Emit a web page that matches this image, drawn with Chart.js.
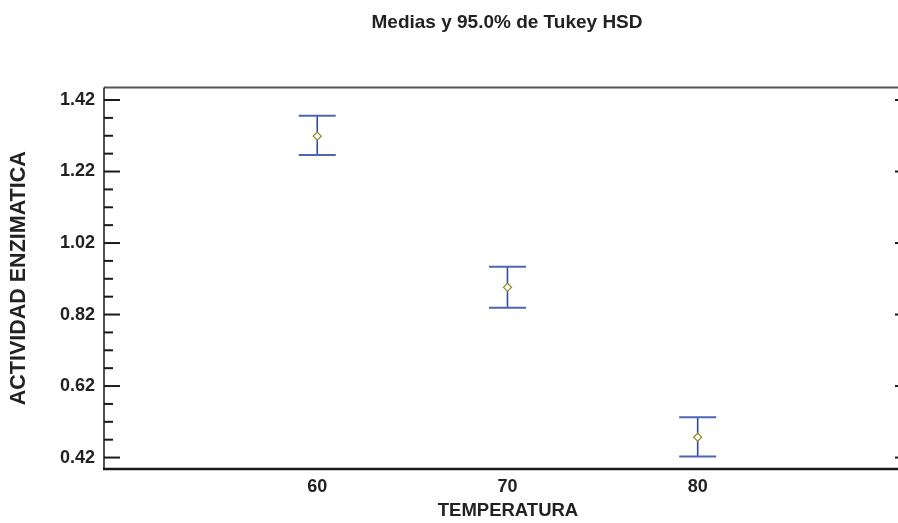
<!DOCTYPE html>
<html>
<head>
<meta charset="utf-8">
<title>Medias y 95.0% de Tukey HSD</title>
<script src="https://cdn.jsdelivr.net/npm/chart.js@4.4.1/dist/chart.umd.min.js"></script>
<style>
  html, body { margin: 0; padding: 0; background: #fff; }
  #wrap { width: 898px; height: 523px; }
</style>
</head>
<body>
<div id="wrap"><canvas id="TukeyChart" width="898" height="523"></canvas></div>
<script>
  'use strict'

  // datos
  var temperaturas = [60, 70, 80];
  var medias = [1.319, 0.896, 0.477];
  var limInf = [1.266, 0.839, 0.423];
  var limSup = [1.376, 0.954, 0.533];
  var yTicks = [0.42, 0.62, 0.82, 1.02, 1.22, 1.42];

  var FONT = "'Liberation Sans', Arial, Helvetica, sans-serif";
  var TXT = '#222222';

  var puntosMedia = temperaturas.map(function (t, i) { return { x: t, y: medias[i] }; });
  var puntosCaps = [];
  var puntosBarra = [];
  temperaturas.forEach(function (t, i) {
    puntosCaps.push({ x: t, y: limInf[i] }, { x: t, y: limSup[i] });
    puntosBarra.push({ x: t, y: limInf[i] }, { x: t, y: limSup[i] }, { x: t, y: NaN });
  });

  /*----marco, ticks y titulos----*/
  var marcoPlugin = {
    id: 'marco',
    afterDraw: function (chart) {
      var ctx = chart.ctx;
      var a = chart.chartArea;
      var y = chart.scales.y;
      ctx.save();
      // titulos
      ctx.fillStyle = TXT;
      ctx.textAlign = 'center';
      ctx.textBaseline = 'middle';
      ctx.font = 'bold 19px ' + FONT;
      ctx.fillText('Medias y 95.0% de Tukey HSD', 507, 23);
      ctx.font = 'bold 18.5px ' + FONT;
      ctx.fillText('TEMPERATURA', 508, 511);

      // marco
      ctx.strokeStyle = '#555555';
      ctx.lineWidth = 2;
      ctx.beginPath(); ctx.moveTo(a.left, a.top); ctx.lineTo(a.right, a.top); ctx.stroke();
      ctx.strokeStyle = '#1a1a1a';
      ctx.lineWidth = 1.5;
      ctx.beginPath(); ctx.moveTo(a.left, a.top); ctx.lineTo(a.left, a.bottom); ctx.stroke();
      ctx.lineWidth = 2.5;
      ctx.beginPath(); ctx.moveTo(a.left - 1, a.bottom); ctx.lineTo(a.right, a.bottom); ctx.stroke();

      // ticks hacia dentro
      ctx.lineWidth = 2;
      yTicks.forEach(function (v, i) {
        var py = y.getPixelForValue(v);
        ctx.beginPath(); ctx.moveTo(a.left, py); ctx.lineTo(a.left + 16, py); ctx.stroke();
        ctx.beginPath(); ctx.moveTo(a.right - 3, py); ctx.lineTo(a.right, py); ctx.stroke();
        if (i < yTicks.length - 1) {
          for (var k = 1; k < 4; k++) {
            var pm = y.getPixelForValue(v + k * 0.05);
            ctx.beginPath(); ctx.moveTo(a.left, pm); ctx.lineTo(a.left + 9, pm); ctx.stroke();
          }
        }
      });
      ctx.restore();
    }
  };

  var ctx = document.getElementById('TukeyChart');
  var myChart = new Chart(ctx, {
    type: 'scatter',
    data: {
      datasets: [{
        label: 'Media',
        data: puntosMedia,
        pointStyle: 'rectRot',
        pointRadius: 4,
        pointBorderWidth: 1.3,
        pointBorderColor: '#8f8f2a',
        pointBackgroundColor: '#ffffff'
      }, {
        label: 'Limites',
        data: puntosCaps,
        pointStyle: 'line',
        pointRadius: 18.5,
        pointBorderWidth: 2,
        pointBorderColor: '#4d66b3'
      }, {
        label: 'Intervalo',
        type: 'line',
        data: puntosBarra,
        showLine: true,
        spanGaps: false,
        borderColor: '#2f4c9e',
        borderWidth: 1.6,
        pointRadius: 0,
        fill: false
      }]
    },
    options: {
      responsive: false,
      animation: false,
      layout: { autoPadding: false, padding: { top: 87.5, right: 0, left: 0, bottom: 0 } },
      scales: {
        x: {
          type: 'linear',
          min: 48.79,
          max: 90.53,
          afterFit: function (s) { s.height = 54; s.paddingLeft = 0; s.paddingRight = 0; },
          afterBuildTicks: function (s) { s.ticks = temperaturas.map(function (v) { return { value: v }; }); },
          grid: { display: false, drawTicks: false },
          border: { display: false },
          ticks: {
            padding: 7,
            color: TXT,
            font: { family: FONT, size: 18, weight: 'bold' },
            callback: function (v) { return String(v); }
          }
        },
        y: {
          min: 0.388,
          max: 1.455,
          afterFit: function (s) { s.width = 104; s.paddingTop = 0; s.paddingBottom = 0; },
          afterBuildTicks: function (s) { s.ticks = yTicks.map(function (v) { return { value: v }; }); },
          grid: { display: false, drawTicks: false },
          border: { display: false },
          ticks: {
            padding: 9,
            color: TXT,
            font: { family: FONT, size: 18, weight: 'bold' },
            callback: function (v) { return v.toFixed(2); }
          },
          title: {
            display: true,
            text: 'ACTIVIDAD ENZIMATICA',
            color: TXT,
            font: { family: FONT, size: 21.5, weight: 'bold' },
            padding: { top: 6, bottom: 0 }
          }
        }
      },
      plugins: {
        legend: { display: false },
        tooltip: { enabled: false }
      }
    },
    plugins: [marcoPlugin]
  });
</script>
</body>
</html>
